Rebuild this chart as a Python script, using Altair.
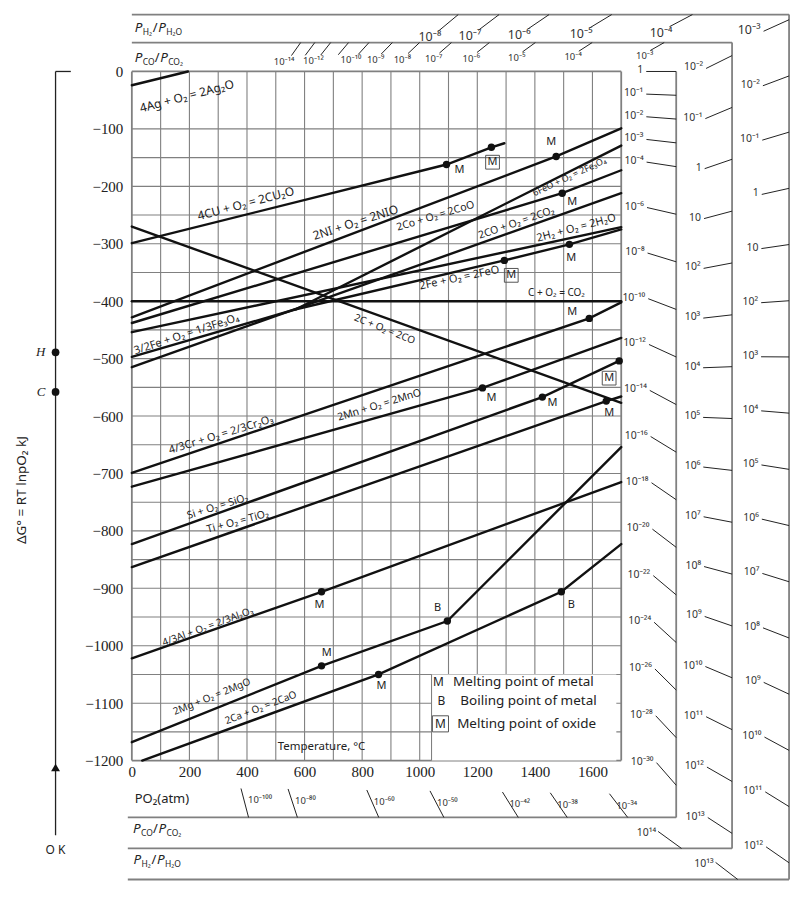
import math
import altair as alt
import pandas as pd

# ---------------- axis / scale values ----------------
T_TICKS = list(range(0, 1601, 200))
G_TICKS = list(range(-1200, 1, 100))
GRID_T = list(range(0, 1701, 100))
GRID_G = [0, -100] + list(range(-150, -1201, -50))

# ---------------- reaction lines (T in °C, ΔG° in kJ) ----------------
AG_T, AG_G = [0, 195], [-24, 0]
CU_T, CU_G = [0, 1093, 1249, 1294], [-299, -162, -132, -125]
NI_T, NI_G = [0, 1474, 1700], [-428, -148, -99]
FEO3_T, FEO3_G = [570, 1700], [-414, -129]
COB_T, COB_G = [0, 1495, 1700], [-438, -212, -172]
CO2_T, CO2_G = [0, 1700], [-515, -212]
H2_T, H2_G = [0, 1700], [-454, -271]
FE34_T, FE34_G = [0, 570], [-497, -414]
FEO_T, FEO_G = [570, 1294, 1520, 1700], [-414, -329, -301, -275]
C1_T, C1_G = [0, 1700], [-400, -400]
C2_T, C2_G = [0, 1700], [-270, -577]
CR_T, CR_G = [0, 1589, 1700], [-699, -430, -402]
MN_T, MN_G = [0, 1218, 1700], [-723, -551, -464]
SI_T, SI_G = [0, 1426, 1693], [-823, -567, -504]
TI_T, TI_G = [0, 1648, 1700], [-863, -574, -566]
AL_T, AL_G = [0, 659, 1700], [-1022, -906, -715]
MG_T, MG_G = [0, 659, 1096, 1700], [-1168, -1035, -957, -654]
CA_T, CA_G = [36, 857, 1492, 1700], [-1200, -1050, -906, -823]

# transition points (dots)
DOT_T = [1093, 1249, 1474, 1495, 1294, 1520, 1589, 1426, 1218, 1693, 1648, 659, 659, 1096, 857, 1492]
DOT_G = [-162, -132, -148, -212, -329, -301, -430, -567, -551, -504, -574, -906, -1035, -957, -1050, -906]

# point labels: M (metal melts), B (metal boils)
PL_TEXT = ["M", "M", "M", "M", "M", "M", "M", "M", "M", "M", "B", "B", "M"]
PL_T = [1138, 1457, 1530, 1526, 1530, 1461, 1249, 1658, 652, 677, 1062, 1527, 867]
PL_G = [-172, -123, -228, -325, -419, -577, -569, -595, -929, -1012, -934, -929, -1070]
# boxed M (oxide melts)
BOX_T = [1253, 1318, 1658]
BOX_G = [-158, -355, -534]

# reaction labels
LBL_TEXT = ["4Ag + O₂ = 2Ag₂O", "4CU + O₂ = 2CU₂O", "2NI + O₂ = 2NIO", "2Co + O₂ = 2CoO",
            "2CO + O₂ = 2CO₂", "2H₂ + O₂ = 2H₂O", "6FeO + O₂ = 2Fe₃O₄", "2Fe + O₂ = 2FeO",
            "C + O₂ = CO₂", "3/2Fe + O₂ = 1/3Fe₃O₄", "2C + O₂ = 2CO", "4/3Cr + O₂ = 2/3Cr₂O₃",
            "2Mn + O₂ = 2MnO", "Si + O₂ = SiO₂", "Ti + O₂ = TiO₂", "4/3Al + O₂ = 2/3Al₂O₃",
            "2Mg + O₂ = 2MgO", "2Ca + O₂ = 2CaO"]
LBL_T = [191, 396, 777, 1055, 1336, 1544, 1520, 1138, 1475, 190, 878, 310, 860, 298, 368, 264, 278, 448]
LBL_G = [-43, -230, -263, -252, -264, -273, -183, -360, -386, -458, -449, -633, -581, -758, -784, -967, -1089, -1108]
LBL_ANG = [-15, -15, -18, -17, -19, -15, -25, -12, 0, -18, 22, -17, -17, -17, -15, -20, -22, -21]
LBL_SIZE = [12, 12, 12, 10.5, 10.5, 11, 9, 11, 10, 11, 10, 11, 10.5, 10.5, 10.5, 10, 10, 10]

# nomogram scales (decade exponents)
PO2_RIGHT = [0, -1, -2, -3, -4, -6, -8, -10, -12, -14, -16, -18, -20, -22, -24, -26, -28, -30]
PO2_BOTTOM = [-34, -38, -42, -50, -60, -80, -100]
CO_TOP = [-14, -13, -12, -11, -10, -9, -8, -7, -6, -5, -4, -3]
CO_TOP_LABELED = [-14, -12, -10, -9, -8, -7, -6, -5, -4, -3]
CO_SIDE = [-2, -1, 0, 1, 2, 3, 4, 5, 6, 7, 8, 9, 10, 11, 12, 13, 14]
H2_TOP = [-8, -7, -6, -5, -4]
H2_SIDE = [-3, -2, -1, 0, 1, 2, 3, 4, 5, 6, 7, 8, 9, 10, 11, 12, 13]

# nomogram origins at 0 K (ΔG° in kJ) and slopes
ABS0 = -273
G_H, G_C = -489, -558
S_CO, S_H2, S_DEC = 0.1718, 0.1117, 0.03829
S_O2 = 0.019145

# frames: (right border T, top ΔG, bottom ΔG)
FR_O2 = (1891, 0, -1299)
FR_CO = (2085, 50.4, -1353)
FR_H2 = (2283, 99.1, -1407)
FR_LEFT = -14

# ---------------- geometry helpers ----------------
W, H = 490, 690
PX_T = W / 1700.0
PX_G = H / 1200.0
XS = alt.Scale(domain=[0, 1700], nice=False, zero=False)
YS = alt.Scale(domain=[-1200, 0], nice=False, zero=False)
AXX = alt.Axis(values=T_TICKS, title=None, grid=False, ticks=False, domain=False,
               labelFont="Liberation Serif", labelFontSize=15, labelPadding=4,
               labelColor="#222", format="d", labelFlush=False)
AXY = alt.Axis(values=G_TICKS, title=None, grid=False, ticks=False, domain=False,
               labelFont="Liberation Serif", labelFontSize=15, labelPadding=9,
               labelColor="#222", format="d")

SUP = str.maketrans("-0123456789", "⁻⁰¹²³⁴⁵⁶⁷⁸⁹")


def dec(m):
    if m == 0:
        return "1"
    if m == 1:
        return "10"
    return "10" + str(m).translate(SUP)


def ray_tick(G0, k, frame, L):
    Tb, Gt, Gb = frame
    G = G0 + k * (Tb - ABS0)
    if Gb <= G <= Gt + 1e-9:
        To, Go, side = Tb, G, "right"
    else:
        Gx = Gt if G > Gt else Gb
        To, Go, side = (Gx - G0) / k + ABS0, Gx, ("top" if Gx == Gt else "bottom")
    dT = L / math.sqrt(PX_T ** 2 + (PX_G * k) ** 2)
    Ti = To - dT
    Gi = G0 + k * (Ti - ABS0)
    return Ti, Gi, To, Go, side


segs = []
tlabels = []


def add_tick(G0, k, frame, L, text, fs, show=True):
    Ti, Gi, To, Go, side = ray_tick(G0, k, frame, L)
    segs.append(dict(T=Ti, G=Gi, T2=To, G2=Go))
    if not show:
        return
    if side == "right":
        ox, oy, al = -3, -1, "right"
    elif side == "top":
        ox, oy, al = 3, 6, "right"
    else:
        if frame is FR_O2:
            ox, oy, al = 7, 12, "left"
        else:
            ox, oy, al = -2, 2, "right"
    tlabels.append(dict(text=text, T=Ti + ox / PX_T, G=Gi - oy / PX_G, al=al, fs=fs))


for n in PO2_RIGHT:
    add_tick(0, S_O2 * n, FR_O2, 30, dec(n), 10.5)
for n in PO2_BOTTOM:
    add_tick(0, S_O2 * n, FR_O2, 30, dec(n), 9.5)
for m in CO_TOP:
    add_tick(G_C, S_CO - S_DEC * m, FR_CO, 16, dec(m), 9.5, m in CO_TOP_LABELED)
for m in CO_SIDE:
    add_tick(G_C, S_CO - S_DEC * m, FR_CO, 29, dec(m), 10.5)
for m in H2_TOP:
    add_tick(G_H, S_H2 - S_DEC * m, FR_H2, 26, dec(m), 12.5)
for m in H2_SIDE:
    add_tick(G_H, S_H2 - S_DEC * m, FR_H2, 28, dec(m), 12.5 if m == -3 else 10.5)

tick_df = pd.DataFrame(segs)
tlab_df = pd.DataFrame(tlabels)

# frame lines
frames = []
for (Tb, Gt, Gb) in [FR_O2, FR_CO, FR_H2]:
    frames.append(dict(T=Tb, G=Gt, T2=Tb, G2=Gb))
    frames.append(dict(T=FR_LEFT, G=Gb, T2=Tb, G2=Gb))
    if Gt > 0:
        frames.append(dict(T=0, G=Gt, T2=Tb, G2=Gt))
frame_df = pd.DataFrame(frames)

# grid
grid = []
for t in GRID_T:
    grid.append(dict(T=t, G=0, T2=t, G2=-1200, w=1.8 if t in (0, 1700) else 1.1))
for g in GRID_G:
    grid.append(dict(T=0, G=g, T2=1700, G2=g, w=1.8 if g in (0, -1200) else 1.1))
grid_df = pd.DataFrame(grid)

# reaction line table
rows = []
for name, ts, gs in [("Ag", AG_T, AG_G), ("Cu", CU_T, CU_G), ("Ni", NI_T, NI_G),
                     ("FeO3", FEO3_T, FEO3_G), ("Co", COB_T, COB_G), ("CO2", CO2_T, CO2_G),
                     ("H2", H2_T, H2_G), ("Fe34", FE34_T, FE34_G), ("FeO", FEO_T, FEO_G),
                     ("C1", C1_T, C1_G), ("C2", C2_T, C2_G), ("Cr", CR_T, CR_G),
                     ("Mn", MN_T, MN_G), ("Si", SI_T, SI_G), ("Ti", TI_T, TI_G),
                     ("Al", AL_T, AL_G), ("Mg", MG_T, MG_G), ("Ca", CA_T, CA_G)]:
    for i, (t, g) in enumerate(zip(ts, gs)):
        rows.append(dict(name=name, i=i, T=t, G=g))
line_df = pd.DataFrame(rows)

dot_df = pd.DataFrame(dict(T=DOT_T, G=DOT_G))
pl_df = pd.DataFrame(dict(text=PL_TEXT, T=PL_T, G=PL_G))
box_df = pd.DataFrame(dict(T=BOX_T, G=BOX_G))
lbl_df = pd.DataFrame(dict(text=LBL_TEXT, T=LBL_T, G=LBL_G,
                           ang=[(a + 360) % 360 for a in LBL_ANG], fs=LBL_SIZE))


def X(f="T"):
    return alt.X(f, type="quantitative", scale=XS, axis=AXX)


def Y(f="G"):
    return alt.Y(f, type="quantitative", scale=YS, axis=AXY)


def seg_layer(df, color, width=None, wfield=None):
    enc = dict(x=X("T"), y=Y("G"), x2=alt.X2("T2"), y2=alt.Y2("G2"))
    if wfield:
        enc["strokeWidth"] = alt.StrokeWidth(wfield, type="quantitative", scale=None)
        return alt.Chart(df).mark_rule(color=color, clip=False).encode(**enc)
    return alt.Chart(df).mark_rule(color=color, strokeWidth=width, clip=False).encode(**enc)


def text_layer(df, **kw):
    base = dict(font=FONT, baseline="middle", clip=False, color="#222")
    base.update(kw)
    enc = dict(x=X("T"), y=Y("G"), text="text:N")
    if "fs" in df.columns:
        enc["size"] = alt.Size("fs:Q", scale=None)
    if "ang" in df.columns:
        enc["angle"] = alt.Angle("ang:Q", scale=None)
    return alt.Chart(df).mark_text(**base).encode(**enc)


FONT = "Noto Sans"
GRAY = "#808080"

layers = []

layers.append(seg_layer(grid_df, GRAY, wfield="w"))

# legend box (covers grid)
leg_box = pd.DataFrame(dict(T=[1041], T2=[1683], G=[-1050], G2=[-1200]))
layers.append(alt.Chart(leg_box).mark_rect(color="white").encode(
    x=X("T"), x2=alt.X2("T2"), y=Y("G"), y2=alt.Y2("G2")))
layers.append(seg_layer(pd.DataFrame(dict(T=[1041], G=[-1050], T2=[1041], G2=[-1200])), GRAY, 1.1))

# outer frames
layers.append(seg_layer(frame_df, GRAY, 1.8))

# nomogram ticks and labels
layers.append(seg_layer(tick_df, "#222", 1.0))
for al in ["right", "left"]:
    sub = tlab_df[tlab_df.al == al].drop(columns="al")
    layers.append(text_layer(sub, align=al, color="#333"))

# left 0 K axis
LEFT_T = -265
layers.append(seg_layer(pd.DataFrame(dict(T=[LEFT_T, LEFT_T], G=[0, 0],
                                          T2=[LEFT_T, -212], G2=[-1330, 0])), "#222", 1.3))
layers.append(alt.Chart(pd.DataFrame(dict(T=[LEFT_T], G=[-1212]))).mark_point(
    shape="triangle-up", filled=True, color="#111", size=80, opacity=1, clip=False).encode(
    x=X("T"), y=Y("G")))
layers.append(alt.Chart(pd.DataFrame(dict(T=[LEFT_T, LEFT_T], G=[G_H, G_C]))).mark_circle(
    color="#111", size=60, opacity=1, clip=False).encode(x=X("T"), y=Y("G")))
layers.append(text_layer(pd.DataFrame(dict(text=["H", "C"], T=[-300, -300], G=[G_H, G_C])),
                         font="Liberation Serif", fontStyle="italic", fontSize=13, align="right"))
layers.append(text_layer(pd.DataFrame(dict(text=["O K"], T=[LEFT_T], G=[-1355])),
                         fontSize=12, align="center"))
layers.append(text_layer(pd.DataFrame(dict(text=["ΔG° = RT lnpO₂ kJ"], T=[-382], G=[-729])),
                         fontSize=13.5, angle=270, align="center"))

# scale captions (P with subscripts)
cap_main, cap_sub = [], []


def caption(T0, G0, parts):
    for txt, dx, kind in parts:
        T = T0 + dx / PX_T
        if kind == "main":
            cap_main.append(dict(text=txt, T=T, G=G0))
        elif kind == "slash":
            cap_sub.append(dict(text=txt, T=T, G=G0, fs=13))
        else:
            cap_sub.append(dict(text=txt, T=T, G=G0 - 4 / PX_G, fs=8.5))


PH_PARTS = [("P", 0, "main"), ("H₂", 8, "sub"), ("/", 18, "slash"), ("P", 23.5, "main"), ("H₂O", 31.5, "sub")]
PC_PARTS = [("P", 0, "main"), ("CO", 8, "sub"), ("/", 20, "slash"), ("P", 25.5, "main"), ("CO₂", 33.5, "sub")]
caption(10, 76.5, PH_PARTS)
caption(10, 23, PC_PARTS)
caption(4, -1319, PC_PARTS)
caption(6, -1373, PH_PARTS)
layers.append(text_layer(pd.DataFrame(cap_main), fontStyle="italic", fontSize=13.5, align="left"))
layers.append(text_layer(pd.DataFrame(cap_sub), align="left"))
layers.append(text_layer(pd.DataFrame(dict(text=["PO₂(atm)"], T=[10], G=[-1266])),
                         fontSize=13, align="left"))

# reaction lines
layers.append(alt.Chart(line_df).mark_line(color="#111", strokeWidth=2.4, clip=False,
                                           strokeCap="round").encode(
    x=X("T"), y=Y("G"), detail="name:N", order="i:Q"))
layers.append(alt.Chart(dot_df).mark_circle(color="#111", size=55, opacity=1).encode(
    x=X("T"), y=Y("G")))

# reaction labels
layers.append(text_layer(lbl_df, align="center"))

# M / B markers
layers.append(text_layer(pl_df, fontSize=11, align="center"))
layers.append(alt.Chart(box_df).mark_point(shape="square", filled=False, size=190, color="#555",
                                           strokeWidth=1, opacity=1).encode(x=X("T"), y=Y("G")))
layers.append(text_layer(box_df.assign(text="M"), fontSize=11, align="center"))

# legend
LEG_SYM = ["M", "B", "M"]
LEG_TXT = ["Melting point of metal", "Boiling point of metal", "Melting point of oxide"]
LEG_G = [-1063, -1096, -1136]
LEG_SYM_T = [1065, 1075, 1072]
LEG_TXT_T = [1116, 1141, 1130]
layers.append(text_layer(pd.DataFrame(dict(text=LEG_SYM, T=LEG_SYM_T, G=LEG_G)),
                         fontSize=12, align="center"))
layers.append(alt.Chart(pd.DataFrame(dict(T=[LEG_SYM_T[2]], G=[LEG_G[2]]))).mark_point(
    shape="square", filled=False, size=260, color="#555", strokeWidth=1, opacity=1).encode(
    x=X("T"), y=Y("G")))
layers.append(text_layer(pd.DataFrame(dict(text=LEG_TXT, T=LEG_TXT_T, G=LEG_G)),
                         fontSize=13.5, align="left"))
layers.append(text_layer(pd.DataFrame(dict(text=["Temperature, °C"], T=[659], G=[-1176])),
                         fontSize=11.5, align="center"))

chart = alt.layer(*layers).properties(
    width=W, height=H,
    padding={"left": 124, "top": 63, "right": 180, "bottom": 128},
    autosize=alt.AutoSizeParams(type="none"),
    background="white",
).configure_view(stroke=None)

chart.save("out.html", embed_options={"renderer": "svg", "actions": False})
